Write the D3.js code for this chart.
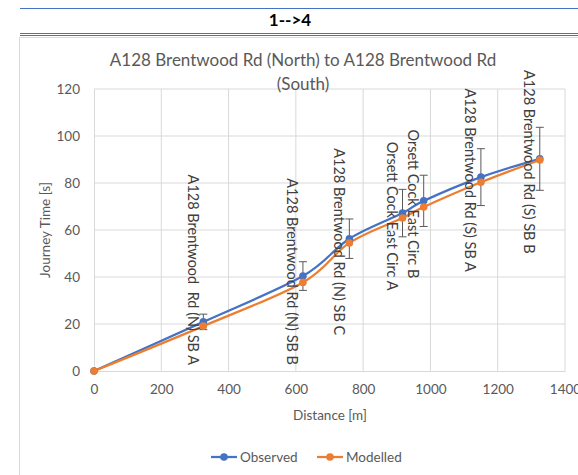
<!DOCTYPE html>
<html>
<head>
<meta charset="utf-8">
<script src="https://cdn.jsdelivr.net/npm/d3@7"></script>
<style>
  body { margin: 0; background: #fff; }
  svg { display: block; font-family: Lato, "Liberation Sans", sans-serif; }
</style>
</head>
<body>
<div id="viz"></div>
<script>
// journey time along the route
var distance = [0, 325, 621, 759, 917, 980, 1150, 1325];
var observed = [0, 20.9, 40.4, 56.3, 67.2, 72.4, 82.5, 90.3];
var modelled = [0, 19.1, 37.7, 54.5, 65.1, 69.8, 80.3, 89.8];
var obsError = [0, 3.3, 6.1, 8.4, 10.1, 10.9, 12.1, 13.4];
var siteLabels = ["", "A128 Brentwood  Rd (N) SB A", "A128 Brentwood Rd (N) SB B",
  "A128 Brentwood Rd (N) SB C", "Orsett Cock East Circ A", "Orsett Cock East Circ B",
  "A128 Brentwood Rd (S) SB A", "A128 Brentwood Rd (S) SB B"];
var xTicks = [0, 200, 400, 600, 800, 1000, 1200, 1400];
var yTicks = [0, 20, 40, 60, 80, 100, 120];
var seriesNames = ["Observed", "Modelled"];
var colors = ["#4472C4", "#ED7D31"];

function drawChart() {
  var w = 578, h = 475;
  var pLeft = 94, pRight = 565, pTop = 89, pBottom = 371;

  var svg = d3.select("#viz").append("svg")
      .attr("width", w)
      .attr("height", h);

  // page header
  svg.append("line").attr("x1", 20).attr("x2", w).attr("y1", 8.5).attr("y2", 8.5)
      .style("stroke", "#4472C4").style("stroke-width", 1);
  svg.append("text").attr("x", 290).attr("y", 26)
      .attr("text-anchor", "middle")
      .style("font-weight", "bold").style("font-size", "17px").style("fill", "#000")
      .text("1-->4");
  svg.append("line").attr("x1", 20).attr("x2", w).attr("y1", 33.5).attr("y2", 33.5)
      .style("stroke", "#4472C4").style("stroke-width", 1);
  svg.append("line").attr("x1", 20).attr("x2", w).attr("y1", 35.5).attr("y2", 35.5)
      .style("stroke", "#4472C4").style("stroke-width", 1);

  // chart area
  svg.append("rect").attr("x", 19.5).attr("y", 37.5).attr("width", 600).attr("height", 500)
      .style("fill", "#fff").style("stroke", "#d9d9d9");

  var x = d3.scaleLinear().domain([0, 1400]).range([pLeft, pRight]);
  var y = d3.scaleLinear().domain([0, 120]).range([pBottom, pTop]);
  var idx = distance.map(function(d, i) { return i; });

  // grid
  svg.append("g").selectAll("line").data(xTicks.slice(1)).enter().append("line")
      .attr("x1", function(d) { return x(d); }).attr("x2", function(d) { return x(d); })
      .attr("y1", pTop).attr("y2", pBottom)
      .style("stroke", "#d9d9d9");
  svg.append("g").selectAll("line").data(yTicks.slice(1)).enter().append("line")
      .attr("x1", pLeft).attr("x2", pRight)
      .attr("y1", function(d) { return y(d); }).attr("y2", function(d) { return y(d); })
      .style("stroke", "#d9d9d9");

  // axes
  var xAxis = svg.append("g").attr("transform", "translate(0," + pBottom + ")")
      .call(d3.axisBottom(x).tickValues(xTicks).tickFormat(d3.format("d")).tickSize(0).tickPadding(13));
  var yAxis = svg.append("g").attr("transform", "translate(" + pLeft + ",0)")
      .call(d3.axisLeft(y).tickValues(yTicks).tickFormat(d3.format("d")).tickSize(0).tickPadding(14));
  [xAxis, yAxis].forEach(function(a) {
    a.select(".domain").style("stroke", "#d9d9d9");
    a.selectAll("text").style("font-size", "13.5px").style("fill", "#595959")
      .style("font-family", "Lato, sans-serif");
  });

  // titles
  svg.append("text").attr("x", 303).attr("y", 66).attr("text-anchor", "middle")
      .style("font-size", "17px").style("fill", "#595959")
      .text("A128 Brentwood Rd (North) to A128 Brentwood Rd");
  svg.append("text").attr("x", 303).attr("y", 90).attr("text-anchor", "middle")
      .style("font-size", "17px").style("fill", "#595959")
      .text("(South)");
  svg.append("text").attr("x", 330).attr("y", 420).attr("text-anchor", "middle")
      .style("font-size", "13.5px").style("fill", "#595959")
      .text("Distance [m]");
  svg.append("text").attr("transform", "translate(50,230) rotate(-90)").attr("text-anchor", "middle")
      .style("font-size", "13.5px").style("fill", "#595959")
      .text("Journey Time [s]");

  // error bars on observed
  var eb = svg.append("g").selectAll("g")
      .data(idx.filter(function(i) { return obsError[i] > 0; }))
      .enter().append("g")
      .style("stroke", "#595959").style("stroke-width", 1);
  eb.append("line")
      .attr("x1", function(i) { return x(distance[i]); })
      .attr("x2", function(i) { return x(distance[i]); })
      .attr("y1", function(i) { return y(observed[i] + obsError[i]); })
      .attr("y2", function(i) { return y(observed[i] - obsError[i]); });
  [1, -1].forEach(function(s) {
    eb.append("line")
      .attr("x1", function(i) { return x(distance[i]) - 4; })
      .attr("x2", function(i) { return x(distance[i]) + 4; })
      .attr("y1", function(i) { return y(observed[i] + s * obsError[i]); })
      .attr("y2", function(i) { return y(observed[i] + s * obsError[i]); });
  });

  // smoothed lines + markers
  var line = d3.line().curve(d3.curveCardinal.tension(0))
      .x(function(d, i) { return x(distance[i]); })
      .y(function(d) { return y(d); });
  var series = [observed, modelled];
  series.forEach(function(s, k) {
    svg.append("path").datum(s).attr("d", line)
      .style("fill", "none").style("stroke", colors[k]).style("stroke-width", 2.25);
  });
  series.forEach(function(s, k) {
    svg.append("g").selectAll("circle").data(s).enter().append("circle")
      .attr("cx", function(d, i) { return x(distance[i]); })
      .attr("cy", function(d) { return y(d); })
      .attr("r", 3.8)
      .style("fill", colors[k]);
  });

  // site labels, rotated, kept inside the plot at the bottom
  var lbl = svg.append("g").selectAll("text")
      .data(idx.filter(function(i) { return siteLabels[i] !== ""; }))
      .enter().append("text")
      .attr("text-anchor", "middle")
      .attr("dominant-baseline", "central")
      .style("font-size", "14.5px").style("fill", "#404040")
      .style("white-space", "pre")
      .text(function(i) { return siteLabels[i]; });
  lbl.attr("transform", function(i) {
    var half = this.getComputedTextLength() / 2;
    var cy = Math.min(y(observed[i]) + 3, pBottom - 6 - half);
    return "translate(" + (x(distance[i]) - 10) + "," + cy + ") rotate(90)";
  });

  // legend
  var lg = svg.append("g").selectAll("g").data(seriesNames).enter().append("g")
      .attr("transform", function(d, i) { return "translate(" + (211 + i * 106) + ",457)"; });
  lg.append("line").attr("x1", 0).attr("x2", 26)
      .style("stroke", function(d, i) { return colors[i]; }).style("stroke-width", 2.25);
  lg.append("circle").attr("cx", 13).attr("r", 3.8)
      .style("fill", function(d, i) { return colors[i]; });
  lg.append("text").attr("x", 29).attr("dy", "0.35em")
      .style("font-size", "13.5px").style("fill", "#595959")
      .text(function(d) { return d; });
}

drawChart();
</script>
</body>
</html>
